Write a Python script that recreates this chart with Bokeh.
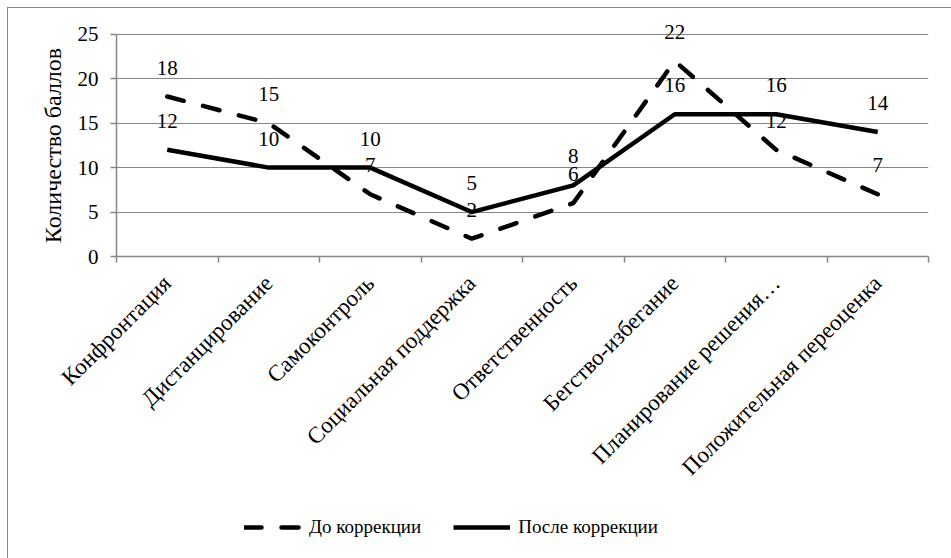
import math
from bokeh.plotting import figure
from bokeh.layouts import column
from bokeh.models import Range1d, FixedTicker, Legend, LegendItem
from bokeh.embed import file_html
from bokeh.resources import INLINE
from bokeh.core.properties import value

categories = ["Конфронтация", "Дистанцирование", "Самоконтроль",
              "Социальная поддержка", "Ответственность", "Бегство-избегание",
              "Планирование решения…", "Положительная переоценка"]
before = [18, 15, 7, 2, 6, 22, 12, 7]
after = [12, 10, 10, 5, 8, 16, 16, 14]
y_ticks = [0, 5, 10, 15, 20, 25]
series_names = ["До коррекции", "После коррекции"]
y_title = "Количество баллов"

FONT = "'Liberation Serif', 'Times New Roman', serif"
GRAY = "#868686"

xs = [i + 0.5 for i in range(len(categories))]

# frame spans 0..27 so that labels above 25 are not clipped; axis stops at 25
p = figure(width=944, height=492, output_backend="svg", toolbar_location=None,
           x_range=Range1d(0, len(categories)), y_range=Range1d(0, 27),
           min_border_left=108, min_border_right=24, min_border_top=8,
           min_border_bottom=244)
p.outline_line_color = None
p.background_fill_color = "white"
p.border_fill_color = "white"

# grid
p.xgrid.visible = False
p.ygrid.grid_line_color = GRAY
p.ygrid.grid_line_width = 1.2
p.ygrid.ticker = FixedTicker(ticks=y_ticks)

# y axis
ya = p.yaxis[0]
ya.ticker = FixedTicker(ticks=y_ticks)
ya.bounds = (0, 25)
ya.axis_line_color = GRAY
ya.axis_line_width = 1.5
ya.major_tick_line_color = GRAY
ya.major_tick_line_width = 1.5
ya.major_tick_out = 6
ya.major_tick_in = 0
ya.minor_tick_line_color = None
ya.major_label_text_font = FONT
ya.major_label_text_font_size = "21px"
ya.major_label_text_color = "black"
ya.major_label_standoff = 12
# non-breaking spaces keep the rotated title centred on the 0..25 span
ya.axis_label = y_title + "\u00a0" * 3
ya.axis_label_text_font = FONT
ya.axis_label_text_font_size = "24px"
ya.axis_label_text_font_style = "normal"
ya.axis_label_text_color = "black"
ya.axis_label_standoff = 9

# x axis
xa = p.xaxis[0]
xa.ticker = FixedTicker(ticks=xs, minor_ticks=list(range(len(categories) + 1)))
xa.major_label_overrides = {x: c for x, c in zip(xs, categories)}
xa.major_label_orientation = math.pi / 4
xa.major_tick_in = 0
xa.major_tick_out = 0
xa.minor_tick_in = 0
xa.minor_tick_out = 6
xa.minor_tick_line_color = GRAY
xa.minor_tick_line_width = 1.5
xa.axis_line_color = GRAY
xa.axis_line_width = 1.5
xa.major_label_text_font = FONT
xa.major_label_text_font_size = "23px"
xa.major_label_text_color = "black"
xa.major_label_standoff = 17

# lines
r1 = p.line(xs, before, line_color="black", line_width=4.5, line_dash="17 20",
            line_cap="round")
r2 = p.line(xs, after, line_color="black", line_width=4.5, line_join="round")

# data labels
for vals in (before, after):
    p.text(xs, vals, text=[str(v) for v in vals], text_align="center",
           text_baseline="alphabetic", y_offset=-29,
           text_font=value(FONT), text_font_size="21px", text_color="black")

# legend strip below the chart (its frame is aligned with the chart's frame)
lf = figure(width=944, height=59, output_backend="svg", toolbar_location=None,
            x_range=Range1d(0, 1), y_range=Range1d(-100, -99),
            x_axis_location=None, y_axis_location=None,
            min_border=0)
lf.outline_line_color = None
lf.xgrid.visible = False
lf.ygrid.visible = False
l1 = lf.line(xs, before, line_color="black", line_width=4.5, line_dash="17 20",
             line_cap="round")
l2 = lf.line(xs, after, line_color="black", line_width=4.5)

PAD = 5
FRAME_LEFT = 116
legend = Legend(items=[LegendItem(label=series_names[0], renderers=[l1]),
                       LegendItem(label=series_names[1], renderers=[l2])],
                orientation="horizontal", location=(244 - FRAME_LEFT - PAD, 16),
                glyph_width=57, glyph_height=20, label_standoff=8, spacing=32,
                padding=PAD, margin=0,
                border_line_alpha=0, background_fill_alpha=0,
                label_text_font=FONT, label_text_font_size="19px",
                label_text_color="black")
lf.add_layout(legend, "center")

layout = column(p, lf, spacing=0,
                styles={"border-left": "1px solid #868686",
                        "border-top": "1px solid #868686",
                        "margin-left": "7px", "margin-top": "7px"})

open("out.html", "w").write(file_html(layout, INLINE))
